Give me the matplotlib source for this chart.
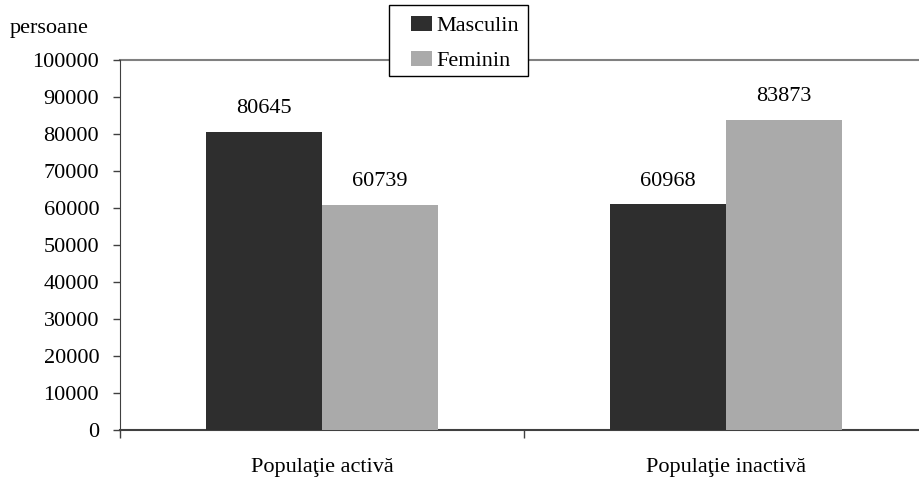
import matplotlib.pyplot as plt
import numpy as np
from matplotlib.patches import Patch, Rectangle

plt.rcParams['font.family'] = ['Liberation Serif', 'DejaVu Serif']

categories = ["Populaţie activă", "Populaţie inactivă"]
masculin = [80645, 60968]
feminin = [60739, 83873]
series_names = ["Masculin", "Feminin"]
colors = ["#2e2e2e", "#aaaaaa"]

W, H = 919, 482
fig = plt.figure(figsize=(W / 100, H / 100), dpi=100)
ax = fig.add_axes([120 / W, 1 - 430 / H, (W - 120) / W, 370 / H])

x = np.arange(len(categories))
w = 116 / 404
b1 = ax.bar(x - w / 2, masculin, w, color=colors[0], zorder=3)
b2 = ax.bar(x + w / 2, feminin, w, color=colors[1], zorder=3)

for bars in (b1, b2):
    for r in bars:
        ax.annotate(str(int(r.get_height())), (r.get_x() + r.get_width() / 2, r.get_height()),
                    xytext=(0, 10), textcoords="offset points", ha="center", va="bottom", fontsize=16)

ax.set_ylim(0, 100000)
ax.set_xlim(-0.5, -0.5 + (W - 120) / 404)
ax.set_yticks(np.arange(0, 100001, 10000))
ax.tick_params(axis="y", labelsize=16, length=5, width=1, color="#404040", pad=10)
ax.set_xticks([-0.5, 0.5])
ax.set_xticklabels([])
ax.set_xticks(x, minor=True)
ax.set_xticklabels(categories, minor=True, fontsize=16)
ax.tick_params(axis="x", which="major", length=6, width=1, color="#404040")
ax.tick_params(axis="x", which="minor", length=0, pad=20)

for s in ["top", "right"]:
    ax.spines[s].set_visible(False)
ax.spines["left"].set_color("#404040")
ax.spines["bottom"].set_color("#404040")
ax.spines["bottom"].set_linewidth(1.5)
ax.axhline(100000, color="#808080", lw=1.5, zorder=1, clip_on=False)

fig.text(10 / W, 1 - 28 / H, "persoane", fontsize=16, va="center", ha="left")

# legend box drawn by hand so the padding matches
fig.patches.append(Rectangle((389 / W, 1 - 76 / H), 139 / W, 71 / H, transform=fig.transFigure,
                             facecolor="white", edgecolor="black", lw=1, zorder=9))
handles = [Patch(facecolor=c, edgecolor="none") for c in colors]
leg = fig.legend(handles, series_names, loc="upper left", bbox_to_anchor=(404 / W, 1 - 9 / H),
                 fontsize=16, frameon=False,
                 handlelength=0.95, handleheight=0.65, handletextpad=0.2, labelspacing=0.68,
                 borderpad=0.3, borderaxespad=0)
leg.set_zorder(10)

fig.savefig("out.png", dpi=100)
